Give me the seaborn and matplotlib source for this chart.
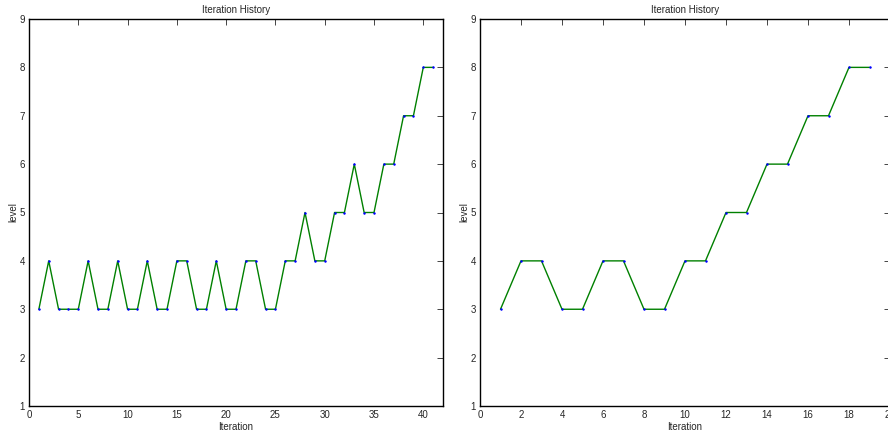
import matplotlib
matplotlib.use("Agg")
import matplotlib.pyplot as plt
import seaborn as sns
import pandas as pd

# iteration history, left run
left_iter = list(range(1, 42))
left_level = [3, 4, 3, 3, 3, 4, 3, 3, 4, 3, 3, 4, 3, 3, 4, 4, 3, 3, 4, 3,
              3, 4, 4, 3, 3, 4, 4, 5, 4, 4, 5, 5, 6, 5, 5, 6, 6, 7, 7, 8, 8]

# iteration history, right run
right_iter = list(range(1, 20))
right_level = [3, 4, 4, 3, 3, 4, 4, 3, 3, 4, 4, 5, 5, 6, 6, 7, 7, 8, 8]

left_ticks = [0, 5, 10, 15, 20, 25, 30, 35, 40]
right_ticks = [0, 2, 4, 6, 8, 10, 12, 14, 16, 18, 20]
y_ticks = [1, 2, 3, 4, 5, 6, 7, 8, 9]

sns.set_style("white")
plt.rcParams['font.family'] = ['Liberation Sans', 'DejaVu Sans']

fig = plt.figure(figsize=(8.88, 4.42), dpi=100)
ax1 = fig.add_axes([29 / 888, 36 / 442, 414 / 888, 387 / 442])
ax2 = fig.add_axes([480 / 888, 36 / 442, 410 / 888, 387 / 442])

panels = [
    (ax1, left_iter, left_level, (0, 42), left_ticks),
    (ax2, right_iter, right_level, (0, 20), right_ticks),
]

for ax, xs, ys, xlim, xt in panels:
    df = pd.DataFrame({'Iteration': xs, 'level': ys})
    sns.lineplot(data=df, x='Iteration', y='level', ax=ax, color='#008000',
                 linewidth=1.0, marker='.', markersize=2,
                 markerfacecolor='#0000ff', markeredgecolor='#0000ff')
    ax.set_xlim(*xlim)
    ax.set_ylim(1, 9)
    ax.set_xticks(xt)
    ax.set_yticks(y_ticks)
    ax.set_title('Iteration History', fontsize=7, pad=4)
    ax.set_xlabel('Iteration', fontsize=7, labelpad=1)
    ax.set_ylabel('level', fontsize=7, labelpad=1)
    ax.tick_params(direction='in', length=4, width=0.6, labelsize=7,
                   top=True, right=True, pad=3)
    for sp in ax.spines.values():
        sp.set_color('black')
        sp.set_linewidth(1.0)
        sp.set_visible(True)

fig.savefig('out.png', dpi=100)
